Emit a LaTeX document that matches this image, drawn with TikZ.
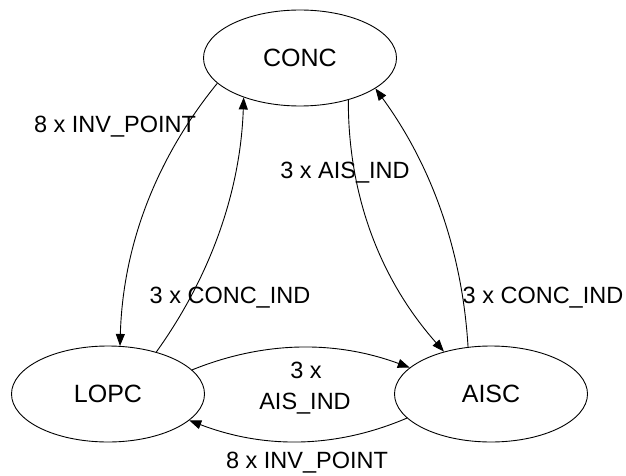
\documentclass[tikz,border=0pt]{standalone}
\usepackage{fontspec}
\setmainfont{Liberation Sans}
\usetikzlibrary{arrows.meta,shapes.geometric}
\begin{document}
\begin{tikzpicture}[x=1pt,y=-1pt,
  state/.style={ellipse,draw,line width=0.9pt,minimum width=193pt,minimum height=96pt,
    inner sep=0pt,font=\fontsize{25}{30}\selectfont},
  lbl/.style={anchor=base,inner sep=0pt,font=\fontsize{23.5}{28}\selectfont},
  arr/.style={draw,line width=0.9pt,-{Triangle[length=12pt,width=9pt]}}]
\path[use as bounding box] (0,0) rectangle (626,476);

% states
\node[state] (conc) at (300,58)  {CONC};
\node[state] (lopc) at (108,394) {LOPC};
\node[state] (aisc) at (491,394) {AISC};

% transitions
\draw[arr] (conc.197)   .. controls (154.5,160.5) and (122.9,247.5) .. (lopc.76);
\draw[arr] (lopc.41.2)  .. controls (210.9,275.8) and (240.5,190.8) .. (conc.215.3);
\draw[arr] (conc.319.5) .. controls (348.1,194.7) and (379.5,278.7) .. (aisc.138.7);
\draw[arr] (aisc.116.1) .. controls (462.3,252.7) and (432.6,166.7) .. (conc.338.6);
\draw[arr] (lopc.16.4)  .. controls (264.3,340.7) and (335.7,340.3) .. (aisc.162.8);
\draw[arr] (aisc.196)   .. controls (336,448.3) and (265,449.3) .. (lopc.342.6);

% transition labels
\node[lbl] (l1) at (115,132) {8 x INV\_POINT};
\node[lbl] (l2) at (345,178) {3 x AIS\_IND};
\node[lbl] (l3) at (230,303) {3 x CONC\_IND};
\node[lbl] (l4) at (543,303) {3 x CONC\_IND};
\node[lbl] (l5a) at (306,378) {3 x};
\node[lbl] (l5b) at (305,409) {AIS\_IND};
\node[lbl] (l6) at (307,468) {8 x INV\_POINT};
\end{tikzpicture}
\end{document}
